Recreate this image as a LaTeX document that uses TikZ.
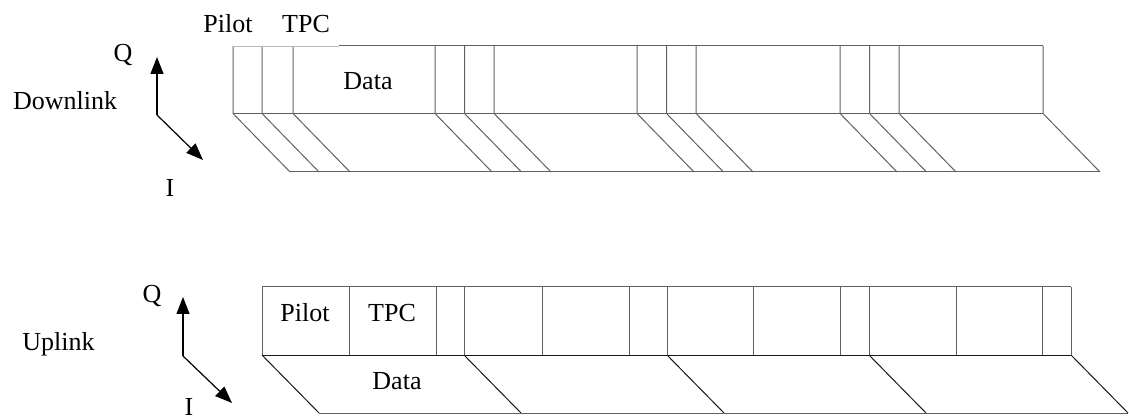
\documentclass[tikz,border=0pt]{standalone}
\usepackage{fontspec}
\setmainfont{Liberation Serif}
\usetikzlibrary{arrows.meta}
\begin{document}
\begin{tikzpicture}[x=1pt,y=-1pt,
  lbl/.style={font=\fontsize{26}{30}\selectfont, inner sep=0pt, anchor=base},
  frame/.style={draw=black!62, line width=1pt},
  darkframe/.style={draw=black!90, line width=1pt},
  axis/.style={draw=black, line width=1.2pt, -{Triangle[length=17pt,width=13pt]}}]
\useasboundingbox (0,0) rectangle (1129,419);

% ---------- Downlink ----------
\foreach \x in {233,262,293,435,464.5,494,637,666.5,696,840,869.5,899,1043}
  {\draw[frame] (\x,46) -- (\x,113.5) -- ++(57,58.5);}
\draw[frame] (233,113.5) -- (1043,113.5);
\draw[frame] (290,172) -- (1100,172);
\draw[frame] (339,46) -- (1043,46);
\draw[draw=black!28, line width=1pt] (233,47) -- (339,47);

\coordinate (o1) at (157,115);
\coordinate (q1) at (157,57);
\coordinate (i1) at (203,160);
\draw[axis] (o1) -- (q1);
\draw[axis] (o1) -- (i1);

\node[lbl] (dpilot) at (228,33) {Pilot};
\node[lbl] (dtpc) at (306,33) {TPC};
\node[lbl] (ddata) at (368,90) {Data};
\node[lbl] (dq) at (123,62) {Q};
\node[lbl] (di) at (170,197) {I};
\node[lbl] (dl) at (65,110) {Downlink};

% ---------- Uplink ----------
\foreach \x in {262,349,436,464,542,629,667,753,840,869,956,1042,1071}
  {\draw[frame] (\x,287) -- (\x,355);}
\foreach \x in {262,464,667,869,1071}
  {\draw[darkframe] (\x,355) -- ++(57,58);}
\draw[frame] (262,287) -- (1071,287);
\draw[darkframe] (262,355) -- (1071,355);
\draw[frame] (319,413) -- (1128,413);

\coordinate (o2) at (183,356);
\coordinate (q2) at (183,297);
\coordinate (i2) at (232,403);
\draw[axis] (o2) -- (q2);
\draw[axis] (o2) -- (i2);

\node[lbl] (upilot) at (305,322) {Pilot};
\node[lbl] (utpc) at (392,322) {TPC};
\node[lbl] (udata) at (397,389) {Data};
\node[lbl] (uq) at (152,303) {Q};
\node[lbl] (ui) at (189,415) {I};
\node[lbl] (ul) at (58.5,351) {Uplink};
\end{tikzpicture}
\end{document}
